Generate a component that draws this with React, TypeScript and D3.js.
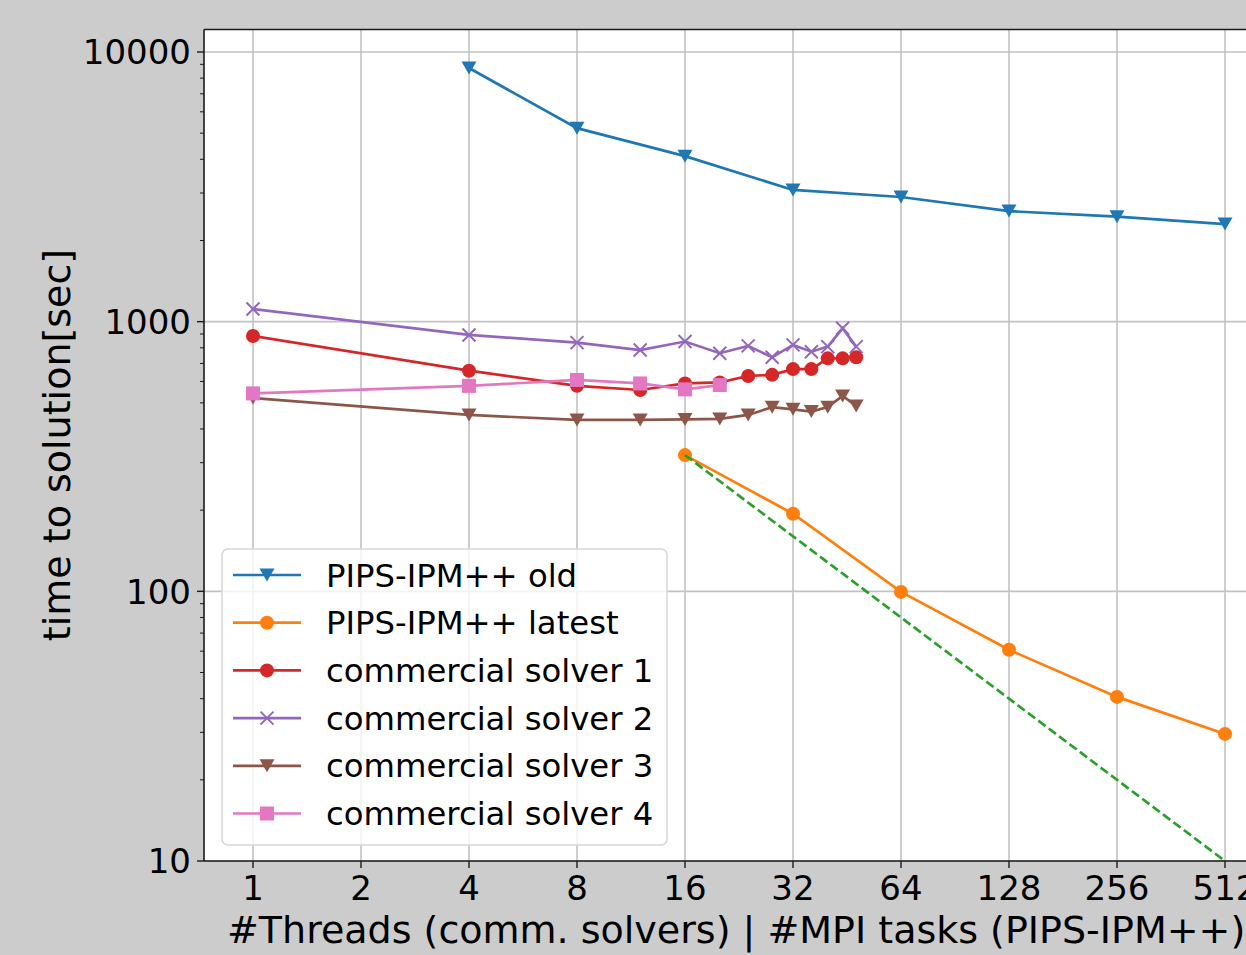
import React from 'react';
import * as d3 from 'd3';

// thread / task counts
const threads = [1, 4, 8, 12, 16, 20, 24, 28, 32, 36, 40, 44, 48];
const oldTasks = [4, 8, 16, 32, 64, 128, 256, 512];
const latestTasks = [16, 32, 64, 128, 256, 512];
const idealTasks = [16, 512];

// time to solution [sec]
const pipsOld = [8720, 5220, 4110, 3080, 2900, 2570, 2450, 2300];
const pipsLatest = [320, 194, 99.5, 60.7, 40.6, 29.6];
const solver1 = [885, 658, 578, 558, 590, 595, 629, 635, 667, 667, 731, 731, 738];
const solver2 = [1114, 893, 836, 785, 844, 764, 813, 738, 820, 774, 808, 945, 808];
const solver3 = [521, 451, 432, 432, 434, 436, 451, 482, 473, 464, 482, 530, 487];
const solver4 = [542, 578, 608, 590, 561, 582];
const idealTimes = [320, 10];

const xTicks = [1, 2, 4, 8, 16, 32, 64, 128, 256, 512];
const yTicks = [10, 100, 1000, 10000];

const W = 1246;
const H = 955;
const plot = { left: 204, top: 29.5, right: 1270, bottom: 861 };
const font = 'DejaVu Sans, sans-serif';

const x = d3.scaleLog().base(2).domain([1, 512]).range([253, 1225]);
const y = d3.scaleLog().domain([10, 10000]).range([861, 52]);

type MarkerKind = 'tri' | 'circle' | 'x' | 'square' | 'none';

const series = [
  { name: 'PIPS-IPM++ old', xs: oldTasks, ys: pipsOld, color: '#1f77b4', marker: 'tri' as MarkerKind, dash: '' },
  { name: 'PIPS-IPM++ latest', xs: latestTasks, ys: pipsLatest, color: '#ff7f0e', marker: 'circle' as MarkerKind, dash: '' },
  { name: 'commercial solver 1', xs: threads, ys: solver1, color: '#d62728', marker: 'circle' as MarkerKind, dash: '' },
  { name: 'commercial solver 2', xs: threads, ys: solver2, color: '#9467bd', marker: 'x' as MarkerKind, dash: '' },
  { name: 'commercial solver 3', xs: threads, ys: solver3, color: '#8c564b', marker: 'tri' as MarkerKind, dash: '' },
  { name: 'commercial solver 4', xs: threads.slice(0, solver4.length), ys: solver4, color: '#e377c2', marker: 'square' as MarkerKind, dash: '' },
  { name: '', xs: idealTasks, ys: idealTimes, color: '#2ca02c', marker: 'none' as MarkerKind, dash: '9,4' },
];

function Marker({ kind, color, cx, cy }: { kind: MarkerKind; color: string; cx: number; cy: number }) {
  const t = `translate(${cx},${cy})`;
  if (kind === 'circle') return <circle cx={cx} cy={cy} r={7} fill={color} />;
  if (kind === 'square') return <rect x={cx - 7} y={cy - 7} width={14} height={14} fill={color} />;
  if (kind === 'tri') return <path transform={t} d="M-7.5,-6.5L7.5,-6.5L0,6.5Z" fill={color} />;
  if (kind === 'x')
    return <path transform={t} d="M-6.5,-6.5L6.5,6.5M-6.5,6.5L6.5,-6.5" stroke={color} strokeWidth={2} fill="none" />;
  return null;
}

export default function App() {
  const line = d3
    .line<[number, number]>()
    .x((d) => x(d[0]))
    .y((d) => y(d[1]));

  const minor: number[] = [];
  [10, 100, 1000].forEach((dec) => {
    for (let k = 2; k <= 9; k++) minor.push(dec * k);
  });

  const legendRows = series.filter((s) => s.name);
  const legendTop = 575;
  const legendStep = 47.7;

  return (
    <svg
      width={W}
      height={H}
      style={{ position: 'absolute', left: 0, top: 0, display: 'block' }}
      fontFamily={font}
    >
      <defs>
        <clipPath id="plotClip">
          <rect x={plot.left} y={plot.top} width={plot.right - plot.left} height={plot.bottom - plot.top} />
        </clipPath>
      </defs>
      <rect x={0} y={0} width={W} height={H} fill="#cccccc" />
      <rect x={plot.left} y={plot.top} width={plot.right - plot.left} height={plot.bottom - plot.top} fill="#ffffff" />

      {/* grid */}
      <g stroke="#c2c2c2" strokeWidth={1.6}>
        {xTicks.map((t) => (
          <line key={'gx' + t} x1={x(t)} x2={x(t)} y1={plot.top} y2={plot.bottom} />
        ))}
        {yTicks.map((t) => (
          <line key={'gy' + t} x1={plot.left} x2={plot.right} y1={y(t)} y2={y(t)} />
        ))}
      </g>

      {/* series */}
      <g clipPath="url(#plotClip)">
        {series.map((s, i) => {
          const pts = s.xs.map((v, j) => [v, s.ys[j]] as [number, number]);
          return (
            <g key={i}>
              <path d={line(pts) || ''} fill="none" stroke={s.color} strokeWidth={2.7} strokeDasharray={s.dash || undefined} />
              {pts.map((p, j) => (
                <Marker key={j} kind={s.marker} color={s.color} cx={x(p[0])} cy={y(p[1])} />
              ))}
            </g>
          );
        })}
      </g>

      {/* spines */}
      <g stroke="#1a1a1a" strokeWidth={1.6} fill="none">
        <line x1={plot.left} x2={plot.right} y1={plot.top} y2={plot.top} />
        <line x1={plot.left} x2={plot.right} y1={plot.bottom} y2={plot.bottom} />
        <line x1={plot.left} x2={plot.left} y1={plot.top} y2={plot.bottom} />
      </g>

      {/* x axis */}
      <g>
        {xTicks.map((t) => (
          <g key={'xt' + t}>
            <line x1={x(t)} x2={x(t)} y1={plot.bottom} y2={plot.bottom + 7} stroke="#1a1a1a" strokeWidth={1.4} />
            <text x={x(t)} y={900} textAnchor="middle" fontSize={34} fill="#000">
              {t}
            </text>
          </g>
        ))}
      </g>

      {/* y axis */}
      <g>
        {yTicks.map((t) => (
          <g key={'yt' + t}>
            <line x1={plot.left - 7} x2={plot.left} y1={y(t)} y2={y(t)} stroke="#1a1a1a" strokeWidth={1.4} />
            <text x={plot.left - 13} y={y(t)} dy="0.36em" textAnchor="end" fontSize={34} fill="#000">
              {t}
            </text>
          </g>
        ))}
        {minor.map((t) => (
          <line key={'ym' + t} x1={plot.left - 4} x2={plot.left} y1={y(t)} y2={y(t)} stroke="#1a1a1a" strokeWidth={1} />
        ))}
      </g>

      {/* axis labels */}
      <text x={227} y={943} fontSize={38} fill="#000">
        #Threads (comm. solvers) | #MPI tasks (PIPS-IPM++)
      </text>
      <text transform={`translate(70,445) rotate(-90)`} textAnchor="middle" fontSize={38} fill="#000">
        time to solution[sec]
      </text>

      {/* legend */}
      <g>
        <rect x={222} y={549} width={445} height={296} rx={6} fill="#ffffff" fillOpacity={0.8} stroke="#d6d6d6" strokeWidth={1.5} />
        {legendRows.map((s, i) => {
          const ly = legendTop + i * legendStep;
          return (
            <g key={s.name}>
              <line x1={233} x2={301} y1={ly} y2={ly} stroke={s.color} strokeWidth={2.7} />
              <Marker kind={s.marker} color={s.color} cx={267} cy={ly} />
              <text x={326} y={ly} dy="0.36em" fontSize={32.3} fill="#000">
                {s.name}
              </text>
            </g>
          );
        })}
      </g>
    </svg>
  );
}
